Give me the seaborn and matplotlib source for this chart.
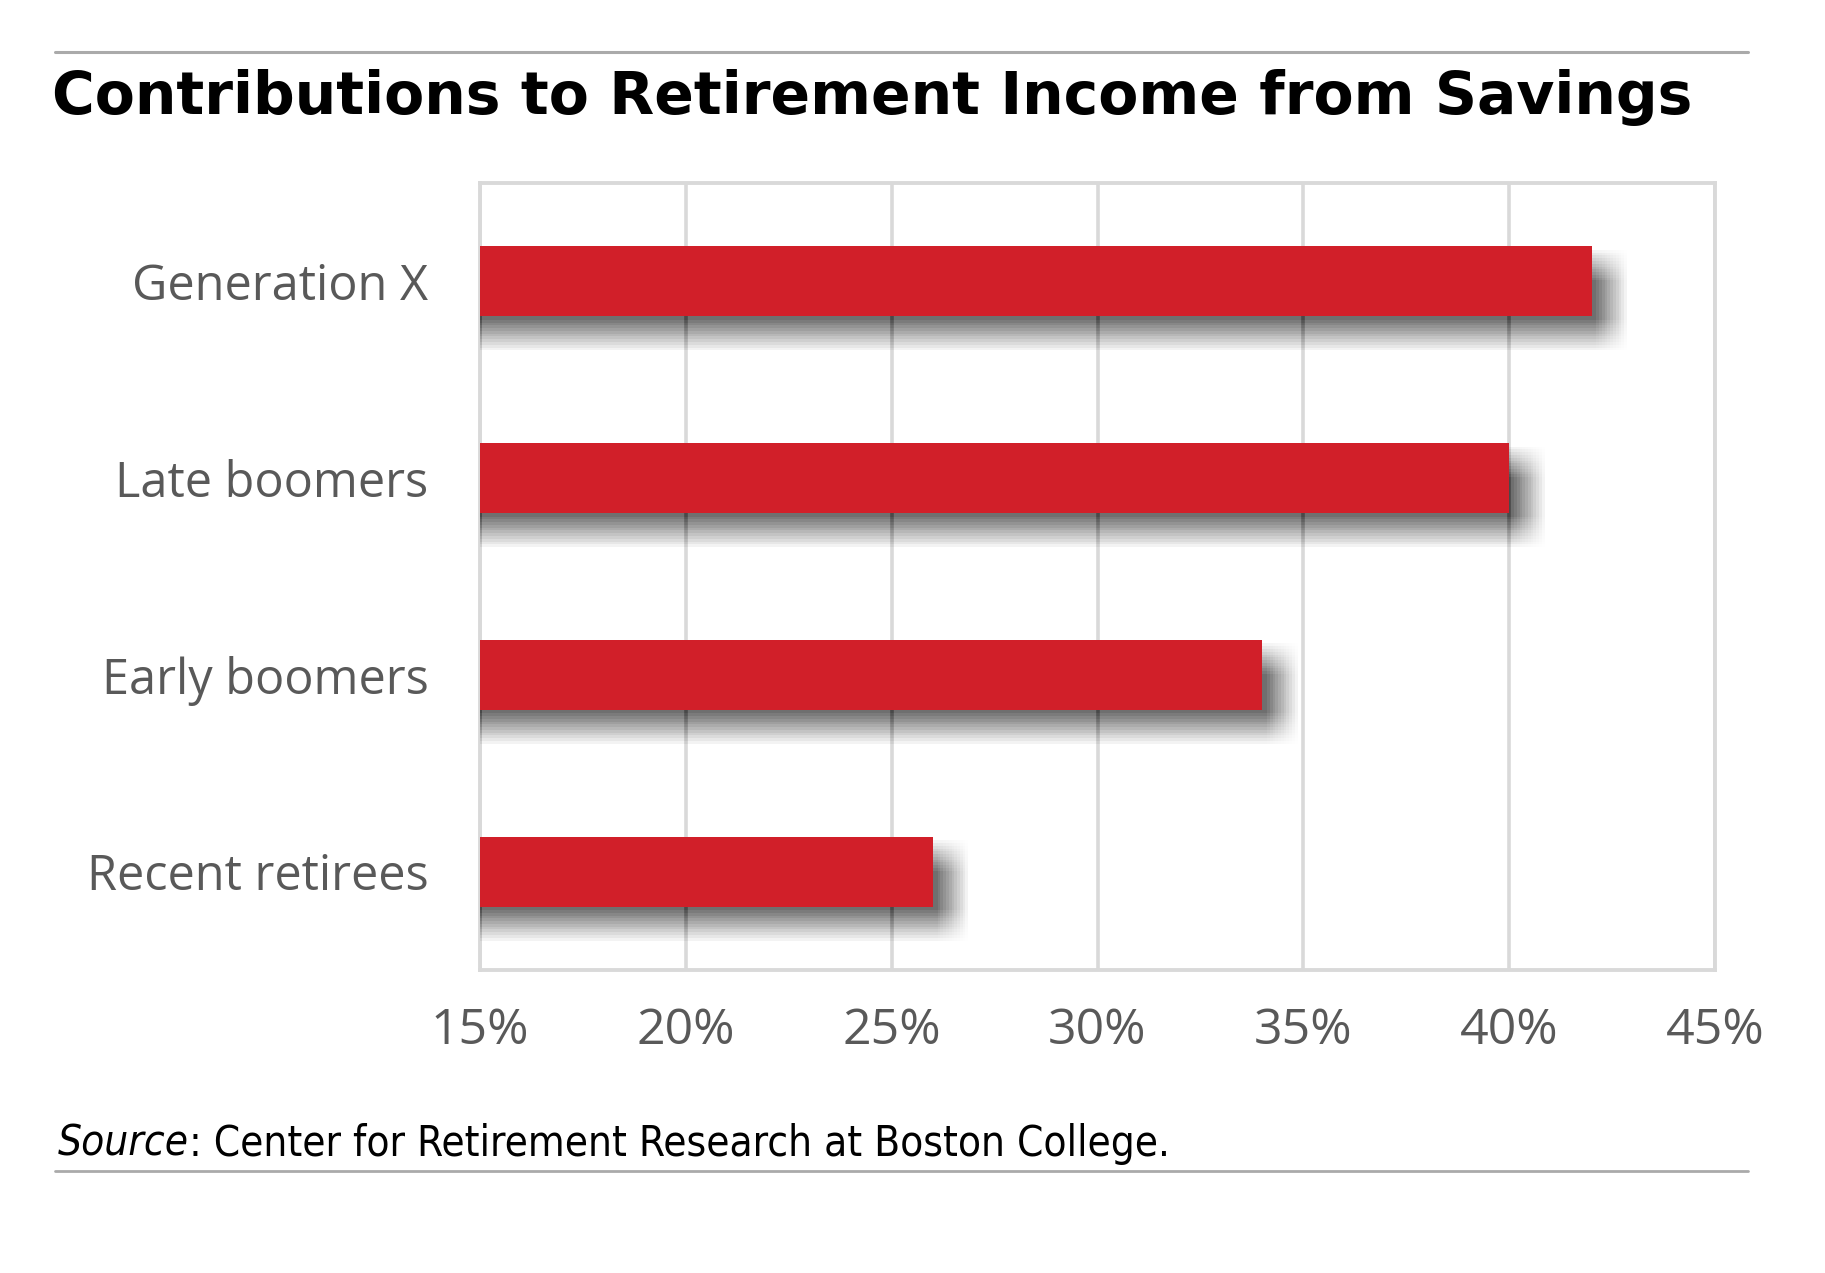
import matplotlib
matplotlib.use("Agg")
import matplotlib.pyplot as plt
import matplotlib.patheffects as pe
from matplotlib.lines import Line2D
import seaborn as sns
import pandas as pd

# ---- data ----
categories = ["Generation X", "Late boomers", "Early boomers", "Recent retirees"]
values = [42, 40, 34, 26]
x_ticks = [15, 20, 25, 30, 35, 40, 45]
x_tick_labels = ["15%", "20%", "25%", "30%", "35%", "40%", "45%"]
title = "Contributions to Retirement Income from Savings"
source_label = "Source"
source_rest = ": Center for Retirement Research at Boston College."

df = pd.DataFrame({"group": categories, "share": values})

sns.set_theme(style="white")
plt.rcParams["font.family"] = ["DejaVu Sans"]

W, H = 1825, 1273
fig = plt.figure(figsize=(W / 100, H / 100), dpi=100)
fig.patch.set_facecolor("white")

L, R, T, B = 480, 1715, 183, 970
ax = fig.add_axes([L / W, 1 - B / H, (R - L) / W, (B - T) / H])

bar_color = "#D11F29"
sns.barplot(data=df, x="share", y="group", orient="h", color=bar_color,
            width=0.355, saturation=1, ax=ax, zorder=3)

# soft (blurred) drop shadow: many faint offset copies spread around a centre offset
cx, cy = 14.5, -13.5
steps = [-11, -9, -7, -5, -3, -1, 1, 3, 5, 7, 9, 11]
shadow_effects = []
for dx in steps:
    for dy in steps:
        shadow_effects.append(
            pe.SimplePatchShadow(offset=(cx + dx, cy + dy),
                                 shadow_rgbFace="black", alpha=0.0044))
shadow_effects.append(pe.Normal())
for p in ax.patches:
    p.set_linewidth(0)
    p.set_path_effects(shadow_effects)

ax.set_xlim(15, 45)
ax.set_xticks(x_ticks)
ax.set_xticklabels(x_tick_labels)
ax.set_xlabel("")
ax.set_ylabel("")

grid_col = "#D9D9D9"
ax.set_axisbelow(True)
ax.xaxis.grid(True, color=grid_col, linewidth=2.6)
ax.yaxis.grid(False)
for s in ax.spines.values():
    s.set_visible(True)
    s.set_color(grid_col)
    s.set_linewidth(2.8)

ax.tick_params(axis="both", length=0)
ax.tick_params(axis="y", pad=37)
ax.tick_params(axis="x", pad=26)
for lab in ax.get_yticklabels():
    lab.set_fontfamily(["Open Sans", "DejaVu Sans"])
    lab.set_fontsize(35)
    lab.set_color("#595959")
for lab in ax.get_xticklabels():
    lab.set_fontfamily(["Open Sans", "DejaVu Sans"])
    lab.set_fontsize(36)
    lab.set_color("#595959")

# ---- title and rules ----
rule_col = "#AAAAAA"
fig.add_artist(Line2D([55 / W, 1748 / W], [1 - 52 / H, 1 - 52 / H],
                      color=rule_col, linewidth=2.2, transform=fig.transFigure))
fig.add_artist(Line2D([55 / W, 1748 / W], [1 - 1171 / H, 1 - 1171 / H],
                      color=rule_col, linewidth=2.0, transform=fig.transFigure))

fig.text(52 / W, 1 - 114 / H, title, fontsize=42, fontweight="bold",
         color="black", ha="left", va="baseline", family=["DejaVu Sans"])

t1 = fig.text(58 / W, 1 - 1156 / H, source_label, fontsize=30.3, style="italic",
              color="black", ha="left", va="baseline",
              family=["DejaVu Sans"], stretch="condensed")
fig.canvas.draw()
r = fig.canvas.get_renderer()
bb = t1.get_window_extent(renderer=r)
fig.text(bb.x1 / W, 1 - 1156 / H, source_rest, fontsize=30.3,
         color="black", ha="left", va="baseline",
         family=["DejaVu Sans"], stretch="condensed")

fig.savefig("out.png", dpi=100, facecolor="white")
